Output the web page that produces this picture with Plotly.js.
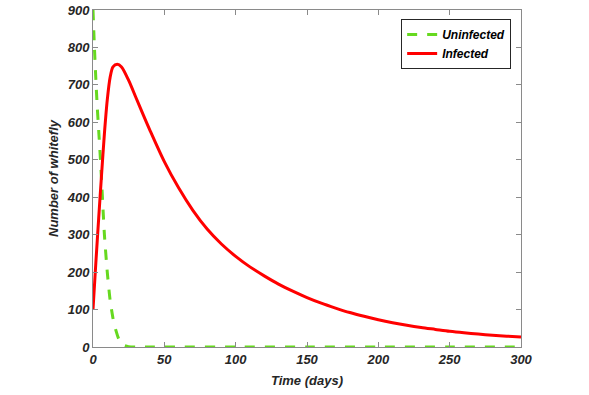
<!DOCTYPE html>
<html>
<head>
<meta charset="utf-8">
<script src="https://cdn.plot.ly/plotly-3.0.1.min.js"></script>
<style>
  html, body { margin: 0; padding: 0; background: #fff; }
  #plot { width: 589px; height: 395px; }
</style>
</head>
<body>
<div id="plot"></div>
<script>
// time (days) and population
const tInfected = [0, 2, 4, 6, 8, 10, 12, 14, 17, 20, 25, 30, 35, 40, 50, 60, 70, 80, 90, 100,
  110, 120, 130, 140, 150, 160, 170, 180, 190, 200, 210, 220, 230, 240, 250, 260, 270, 280, 290, 300];
const infected = [100, 225, 345, 460, 570, 660, 720, 748, 755, 748, 712, 667, 622, 578, 495, 425, 365, 315, 275, 242,
  214, 190, 168, 149, 132, 117, 104, 92, 82, 73, 65, 58, 52, 47, 42, 38, 34.5, 31.5, 29, 27];

const tUninfected = [0, 1, 2, 3, 4, 5, 6, 7, 8, 10, 12, 14, 16, 18, 20, 22, 25, 30, 40, 60, 100, 150, 200, 250, 300];
const uninfected = [900, 800, 715, 640, 578, 515, 445, 370, 300, 200, 125, 77, 45, 22, 10, 4, 1, 0, 0, 0, 0, 0, 0, 0, 0];

const xTicks = [0, 50, 100, 150, 200, 250, 300];
const yTicks = [0, 100, 200, 300, 400, 500, 600, 700, 800, 900];

const fontFam = "Liberation Sans, Arial, sans-serif";
const tickFont = { family: fontFam, size: 13, color: "#262626" };
const axisGray = "#8a8a8a";

const data = [
  {
    type: "scatter",
    mode: "lines",
    name: "<b><i>Uninfected</i></b>",
    x: tUninfected,
    y: uninfected,
    line: { color: "#66d91f", width: 3, dash: "10px,10px", shape: "spline", smoothing: 0.6 }
  },
  {
    type: "scatter",
    mode: "lines",
    name: "<b><i>Infected</i></b>",
    x: tInfected,
    y: infected,
    line: { color: "#ff0000", width: 3, shape: "spline", smoothing: 0.8 }
  }
];

const layout = {
  width: 589,
  height: 395,
  margin: { l: 93, r: 68, t: 10, b: 48 },
  paper_bgcolor: "#fff",
  plot_bgcolor: "#fff",
  showlegend: true,
  hovermode: false,
  font: { family: fontFam },
  xaxis: {
    range: [0, 300],
    tickvals: xTicks,
    ticktext: xTicks.map(v => "<b><i>" + v + "</i></b>"),
    ticks: "inside",
    ticklen: 5,
    tickcolor: axisGray,
    showline: true,
    linecolor: axisGray,
    linewidth: 1,
    mirror: "ticks",
    showgrid: false,
    zeroline: false,
    tickfont: tickFont,
    title: {
      text: "<b><i>Time (days)</i></b>",
      font: { family: fontFam, size: 13, color: "#262626" },
      standoff: 10
    }
  },
  yaxis: {
    range: [0, 900],
    tickvals: yTicks,
    ticktext: yTicks.map(v => "<b><i>" + v + "</i></b>"),
    ticks: "inside",
    ticklen: 5,
    tickcolor: axisGray,
    showline: true,
    linecolor: axisGray,
    linewidth: 1,
    mirror: "ticks",
    showgrid: false,
    zeroline: false,
    tickfont: tickFont,
    title: {
      text: "<b><i>Number of whitefly</i></b>",
      font: { family: fontFam, size: 13, color: "#262626" },
      standoff: 5
    }
  },
  legend: {
    x: 0.977,
    y: 0.973,
    xanchor: "right",
    yanchor: "top",
    bgcolor: "#fff",
    bordercolor: "#262626",
    borderwidth: 1,
    font: { family: fontFam, size: 12, color: "#000" },
    tracegroupgap: 0,
    itemwidth: 30
  }
};

Plotly.newPlot("plot", data, layout, { staticPlot: true, displayModeBar: false });
</script>
</body>
</html>
